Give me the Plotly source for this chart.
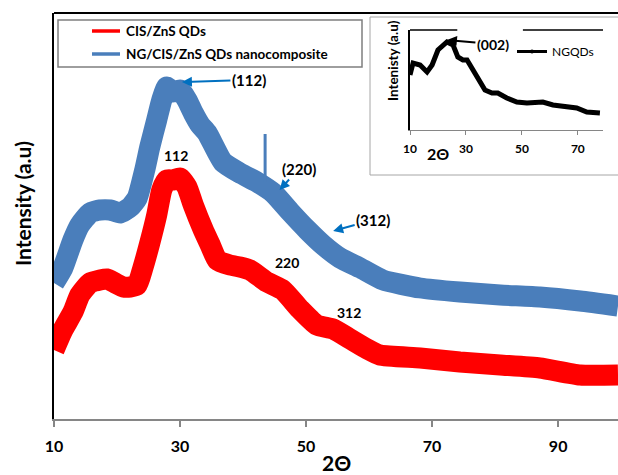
import plotly.graph_objects as go

# ---------------- data ----------------
two_theta_cis = [10.0, 11.4, 13.0, 14.1, 15.7, 17.3, 18.4, 19.7, 21.0, 22.1, 23.2, 24.1,
                 25.2, 26.3, 27.1, 27.9, 28.9, 30.0, 31.1, 32.1, 33.7, 34.8, 35.9, 37.9,
                 39.5, 41.1, 43.8, 46.3, 49.0, 51.7, 54.3, 57.0, 59.7, 61.7, 68.1, 74.4,
                 80.8, 87.1, 93.5, 99.5]
intensity_cis = [68, 88, 106, 123, 135, 138, 139, 135, 131, 131, 133, 150,
                 175, 203, 228, 238, 238, 240, 231, 213, 188, 173, 158, 153,
                 151, 148, 136, 128, 109, 93, 89, 79, 69, 63, 60, 56,
                 53, 50, 43, 43]

two_theta_ng = [10.0, 11.4, 13.0, 14.1, 15.7, 17.3, 18.9, 20.5, 22.1, 23.2, 24.4, 25.2,
                26.3, 27.1, 27.9, 28.9, 30.0, 31.1, 32.1, 33.2, 34.3, 36.8, 39.5, 42.2,
                44.8, 47.5, 50.2, 52.7, 55.4, 58.6, 62.2, 68.1, 74.4, 80.8, 87.1, 93.5, 99.5]
intensity_ng = [135, 150, 178, 193, 205, 208, 208, 205, 211, 220, 248, 271,
                298, 318, 331, 326, 328, 318, 305, 293, 285, 256, 245, 236,
                225, 206, 188, 173, 160, 150, 138, 130, 126, 123, 121, 117, 112]

spike_two_theta = [43.5, 43.5]
spike_intensity = [236, 284]

two_theta_ngqd = [10.0, 11.1, 13.6, 16.1, 17.9, 20.0, 23.2, 25.4, 27.1, 28.9, 30.4, 32.5,
                  34.3, 36.8, 39.3, 41.4, 44.6, 48.2, 51.8, 55.4, 57.5, 61.1, 66.1, 69.6,
                  73.2, 77.9]
intensity_ngqd = [55, 67, 65, 58, 65, 80, 88, 85, 73, 70, 70, 60,
                  50, 40, 37, 37, 32, 28, 27, 27, 28, 25, 23, 22,
                  18, 17]

x_ticks_main = [10, 30, 50, 70, 90]
x_ticks_inset = [10, 30, 50, 70]

series_names = ["CIS/ZnS QDs", "NG/CIS/ZnS QDs nanocomposite", "NGQDs"]

# ---------------- styling ----------------
FONT = "Lato, 'Open Sans', sans-serif"
RED = "#FF0000"
BLUE = "#4A7EBB"
ARROW = "#0070C0"


def px_x(p):   # horizontal pixel -> paper fraction
    return (p - 54) / 564


def px_y(p):   # vertical pixel -> paper fraction
    return (419 - p) / 406


fig = go.Figure()

# main curves
fig.add_trace(go.Scatter(x=two_theta_cis, y=intensity_cis, mode="lines", name=series_names[0],
                         line=dict(color=RED, width=21, shape="spline", smoothing=0.5),
                         showlegend=False, hoverinfo="skip"))
fig.add_trace(go.Scatter(x=two_theta_ng, y=intensity_ng, mode="lines", name=series_names[1],
                         line=dict(color=BLUE, width=21, shape="spline", smoothing=0.5),
                         showlegend=False, hoverinfo="skip"))
fig.add_trace(go.Scatter(x=spike_two_theta, y=spike_intensity, mode="lines",
                         line=dict(color=BLUE, width=3),
                         showlegend=False, hoverinfo="skip"))

# inset curve
fig.add_trace(go.Scatter(x=two_theta_ngqd, y=intensity_ngqd, mode="lines",
                         line=dict(color="black", width=5),
                         xaxis="x2", yaxis="y2", showlegend=False, hoverinfo="skip"))
fig.add_trace(go.Scatter(x=[None], y=[None], mode="lines+markers", name=series_names[2],
                         line=dict(color="black", width=3), marker=dict(size=4, color="black"),
                         xaxis="x2", yaxis="y2", legend="legend2"))

annotations = [
    # axis titles
    dict(text="<b>Intensity (a.u)</b>", xref="paper", yref="paper", x=px_x(22), y=px_y(204),
         xanchor="center", yanchor="middle",
         textangle=-90, showarrow=False, font=dict(family=FONT, size=21, color="black")),
    dict(text="<b>2Θ</b>", xref="paper", yref="paper", x=0.50, y=px_y(462),
         xanchor="center", yanchor="middle",
         showarrow=False, font=dict(family=FONT, size=21, color="black")),
    # main legend texts
    dict(text="<b>" + series_names[0] + "</b>", xref="paper", yref="paper",
         x=px_x(124), y=px_y(31), xanchor="left", yanchor="middle", showarrow=False,
         font=dict(family=FONT, size=13.5, color="black")),
    dict(text="<b>" + series_names[1] + "</b>", xref="paper", yref="paper",
         x=px_x(124), y=px_y(54), xanchor="left", yanchor="middle", showarrow=False,
         font=dict(family=FONT, size=13.5, color="black")),
    # peak labels on blue curve
    dict(text="<b>(112)</b>", x=30.3, y=336, ax=67, ay=-2, showarrow=True,
         arrowhead=2, arrowsize=1, arrowwidth=2, arrowcolor=ARROW,
         font=dict(family=FONT, size=15, color="black")),
    dict(text="<b>(220)</b>", x=45.8, y=228, ax=19, ay=-21, showarrow=True,
         arrowhead=2, arrowsize=1, arrowwidth=2, arrowcolor=ARROW,
         font=dict(family=FONT, size=15, color="black")),
    dict(text="<b>(312)</b>", x=54.3, y=187, ax=40, ay=-11, showarrow=True,
         arrowhead=2, arrowsize=1, arrowwidth=2, arrowcolor=ARROW,
         font=dict(family=FONT, size=15, color="black")),
    # peak labels on red curve
    dict(text="<b>112</b>", x=29.4, y=263, showarrow=False,
         font=dict(family=FONT, size=14, color="black")),
    dict(text="<b>220</b>", x=47.0, y=156, showarrow=False,
         font=dict(family=FONT, size=14, color="black")),
    dict(text="<b>312</b>", x=56.8, y=106, showarrow=False,
         font=dict(family=FONT, size=14, color="black")),
    # inset texts
    dict(text="<b>Intenisty (a.u)</b>", xref="paper", yref="paper", x=px_x(393),
         y=px_y(61), xanchor="center", yanchor="middle", textangle=-90,
         showarrow=False, font=dict(family=FONT, size=13.5, color="black")),
    dict(text="<b>2Θ</b>", xref="paper", yref="paper", x=px_x(438),
         y=px_y(154), xanchor="center", yanchor="middle", showarrow=False,
         font=dict(family=FONT, size=16, color="black")),
    dict(text="<b>(002)</b>", x=23.2, y=90, xref="x2", yref="y2", ax=46, ay=4,
         showarrow=True, arrowhead=2, arrowsize=1, arrowwidth=2, arrowcolor="black",
         font=dict(family=FONT, size=14, color="black")),
]

shapes = [
    # inset outer frame
    dict(type="rect", xref="paper", yref="paper", x0=px_x(370), x1=1.02,
         y0=px_y(175), y1=px_y(17),
         line=dict(color="#A6A6A6", width=1), fillcolor="white", layer="below"),
    # legend frame
    dict(type="rect", xref="paper", yref="paper", x0=px_x(58), x1=px_x(362),
         y0=px_y(67), y1=px_y(20),
         line=dict(color="#7F7F7F", width=1.5), fillcolor="white", layer="below"),
    # legend samples
    dict(type="line", xref="paper", yref="paper", x0=px_x(92), x1=px_x(120),
         y0=px_y(31), y1=px_y(31), line=dict(color=RED, width=3.5)),
    dict(type="line", xref="paper", yref="paper", x0=px_x(92), x1=px_x(120),
         y0=px_y(54), y1=px_y(54), line=dict(color=BLUE, width=3.5)),
    # top frame line of main plot
    dict(type="line", xref="paper", yref="paper", x0=0, x1=1.02, y0=1, y1=1,
         line=dict(color="black", width=2)),
    # inset top frame (broken around the label)
    dict(type="line", xref="x2 domain", yref="y2 domain", x0=0, x1=0.245, y0=1, y1=1,
         line=dict(color="black", width=1.5)),
    dict(type="line", xref="x2 domain", yref="y2 domain", x0=0.585, x1=1, y0=1, y1=1,
         line=dict(color="black", width=1.5)),
]

fig.update_layout(
    width=618, height=475,
    margin=dict(l=54, r=0, t=13, b=56),
    paper_bgcolor="white", plot_bgcolor="rgba(0,0,0,0)",
    font=dict(family=FONT, color="black"),
    xaxis=dict(range=[10, 99.5], tickvals=x_ticks_main, ticks="outside", ticklen=6,
               tickcolor="#868686", tickwidth=1.5, showline=True, linecolor="#868686",
               linewidth=2, showgrid=False, zeroline=False, ticklabelstandoff=6,
               automargin=False,
               tickfont=dict(family=FONT, size=16, color="black", weight="bold")),
    yaxis=dict(range=[-1, 405], showticklabels=False, ticks="", showline=True,
               linecolor="black", linewidth=2, showgrid=False, zeroline=False,
               automargin=False),
    xaxis2=dict(domain=[px_x(410), px_x(603)], anchor="y2", range=[10, 79],
                tickvals=x_ticks_inset, ticks="outside", ticklen=4, tickcolor="#868686",
                showline=True, linecolor="#868686", linewidth=1, showgrid=False,
                zeroline=False, ticklabelstandoff=4, automargin=False,
                tickfont=dict(family=FONT, size=12, color="black", weight="bold")),
    yaxis2=dict(domain=[px_y(130), px_y(30)], anchor="x2", range=[0, 100],
                showticklabels=False, ticks="", showline=True, linecolor="black",
                linewidth=1.5, showgrid=False, zeroline=False, automargin=False),
    showlegend=True,
    legend2=dict(x=px_x(512), y=px_y(37), xanchor="left", yanchor="top",
                 bgcolor="rgba(0,0,0,0)", borderwidth=0,
                 font=dict(family=FONT, size=12, color="black")),
    annotations=annotations,
    shapes=shapes,
)

fig.write_html("out.html", config={"displayModeBar": False},
               post_script="document.body.style.margin='0';")
